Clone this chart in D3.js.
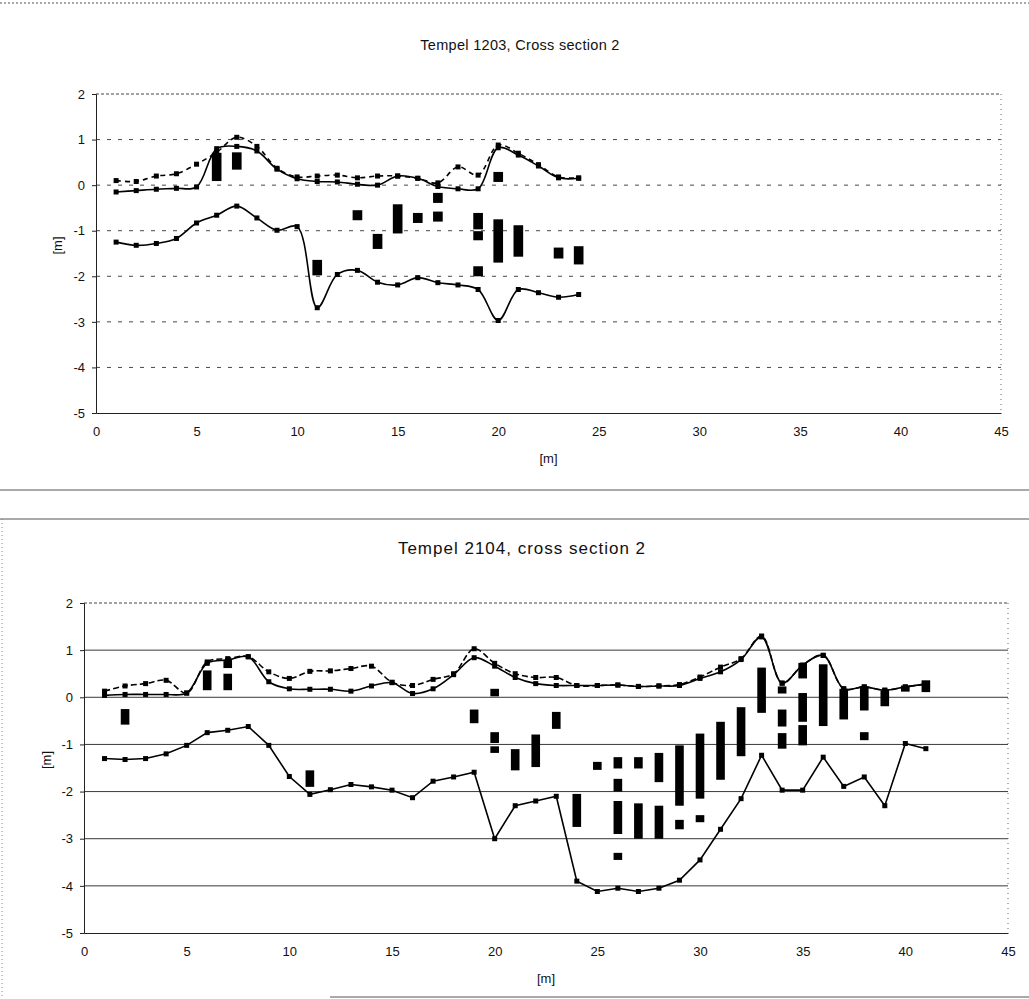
<!DOCTYPE html>
<html>
<head>
<meta charset="utf-8">
<script src="https://cdnjs.cloudflare.com/ajax/libs/d3/7.8.5/d3.min.js"></script>
<style>
  body { margin: 0; background: #fff; }
  svg { display: block; }
  text { font-family: "Liberation Sans", Arial, sans-serif; fill: #111; }
  .tick text { font-size: 13px; }
  .axis path, .axis line { stroke: #222; }
</style>
</head>
<body>
<div id="chart"></div>
<script>
var width = 1029, height = 999;

var xTicks = [0, 5, 10, 15, 20, 25, 30, 35, 40, 45];
var yTicks = [2, 1, 0, -1, -2, -3, -4, -5];

// Tempel 1203
var topStations = [1, 2, 3, 4, 5, 6, 7, 8, 9, 10, 11, 12, 13, 14, 15, 16, 17, 18, 19, 20, 21, 22, 23, 24];
var topAfter = [-0.15, -0.12, -0.09, -0.07, -0.04, 0.80, 0.85, 0.75, 0.35, 0.14, 0.08, 0.07, 0.02, 0.00, 0.20, 0.15, -0.03, -0.08, -0.08, 0.82, 0.66, 0.42, 0.16, 0.15];
var topBefore = [0.10, 0.08, 0.20, 0.25, 0.46, 0.72, 1.05, 0.85, 0.37, 0.18, 0.20, 0.22, 0.16, 0.20, 0.20, 0.15, 0.05, 0.40, 0.22, 0.88, 0.70, 0.45, 0.18, 0.16];
var topLower = [-1.25, -1.32, -1.28, -1.17, -0.83, -0.66, -0.46, -0.72, -0.99, -0.91, -2.69, -1.96, -1.87, -2.13, -2.19, -2.03, -2.14, -2.19, -2.29, -2.97, -2.29, -2.36, -2.46, -2.40];
var topBarX    = [6, 7, 11, 13, 14, 15, 16, 17, 17, 19, 19, 19, 20, 20, 21, 23, 24];
var topBarLow  = [0.09, 0.34, -1.98, -0.77, -1.40, -1.06, -0.83, -0.39, -0.80, -0.97, -1.21, -2.00, 0.07, -1.70, -1.57, -1.61, -1.74];
var topBarHigh = [0.71, 0.72, -1.64, -0.55, -1.07, -0.42, -0.61, -0.17, -0.58, -0.61, -1.01, -1.78, 0.29, -0.75, -0.88, -1.37, -1.34];

// Tempel 2104
var botStations = [1, 2, 3, 4, 5, 6, 7, 8, 9, 10, 11, 12, 13, 14, 15, 16, 17, 18, 19, 20, 21, 22, 23, 24, 25, 26, 27, 28, 29, 30, 31, 32, 33, 34, 35, 36, 37, 38, 39, 40, 41];
var botAfter = [0.04, 0.06, 0.06, 0.06, 0.09, 0.72, 0.79, 0.86, 0.33, 0.18, 0.17, 0.17, 0.13, 0.24, 0.31, 0.08, 0.18, 0.48, 0.84, 0.66, 0.42, 0.29, 0.25, 0.25, 0.25, 0.26, 0.23, 0.24, 0.25, 0.40, 0.54, 0.80, 1.28, 0.30, 0.68, 0.89, 0.18, 0.22, 0.15, 0.22, 0.28];
var botBefore = [0.13, 0.24, 0.29, 0.36, 0.09, 0.75, 0.82, 0.86, 0.54, 0.40, 0.55, 0.56, 0.61, 0.66, 0.32, 0.25, 0.38, 0.50, 1.03, 0.72, 0.50, 0.42, 0.42, 0.25, 0.25, 0.26, 0.23, 0.24, 0.27, 0.43, 0.64, 0.82, 1.30, 0.30, 0.68, 0.89, 0.18, 0.22, 0.15, 0.22, 0.28];
var botLower = [-1.30, -1.32, -1.30, -1.20, -1.02, -0.75, -0.70, -0.62, -1.02, -1.68, -2.06, -1.96, -1.85, -1.90, -1.97, -2.13, -1.78, -1.69, -1.59, -3.00, -2.30, -2.20, -2.10, -3.90, -4.12, -4.05, -4.12, -4.05, -3.88, -3.45, -2.80, -2.15, -1.23, -1.97, -1.97, -1.27, -1.89, -1.69, -2.30, -0.98, -1.09];
var botBarX    = [2, 6, 7, 7, 11, 19, 20, 20, 20, 21, 22, 23, 24, 25, 26, 26, 26, 26, 27, 27, 28, 28, 29, 29, 30, 30, 31, 32, 33, 34, 34, 34, 35, 35, 35, 36, 37, 38, 38, 39, 40, 41];
var botBarLow  = [-0.58, 0.15, 0.15, 0.62, -1.90, -0.55, 0.02, -0.97, -1.18, -1.55, -1.48, -0.67, -2.75, -1.54, -1.51, -2.00, -2.90, -3.45, -1.51, -3.00, -1.80, -3.00, -2.30, -2.80, -2.15, -2.65, -1.75, -1.25, -0.33, 0.08, -0.62, -1.09, 0.40, -0.52, -1.02, -0.61, -0.47, -0.28, -0.91, -0.19, 0.12, 0.11];
var botBarHigh = [-0.25, 0.57, 0.50, 0.80, -1.55, -0.26, 0.18, -0.74, -1.04, -1.10, -0.79, -0.31, -2.05, -1.37, -1.27, -1.73, -2.20, -3.30, -1.27, -2.25, -1.18, -2.30, -1.02, -2.60, -0.77, -2.50, -0.52, -0.21, 0.63, 0.23, -0.26, -0.76, 0.73, 0.09, -0.59, 0.70, 0.18, 0.23, -0.74, 0.15, 0.25, 0.36];

var svg = d3.select("#chart").append("svg")
    .attr("width", width)
    .attr("height", height);

svg.append("rect").attr("width", width).attr("height", height).attr("fill", "#fff");

// page rules of the scanned sheet
var rules = [
  {x1: 0, x2: width, y: 3, dash: "2,2"},
  {x1: 0, x2: width, y: 490, dash: null},
  {x1: 0, x2: width, y: 519, dash: null},
  {x1: 330, x2: width, y: 997, dash: null}
];
svg.selectAll("line.rule")
  .data(rules).enter()
  .append("line")
  .classed("rule", true)
  .attr("x1", function(d) { return d.x1; })
  .attr("x2", function(d) { return d.x2; })
  .attr("y1", function(d) { return d.y; })
  .attr("y2", function(d) { return d.y; })
  .attr("stroke", "#555")
  .attr("stroke-width", 1)
  .attr("stroke-dasharray", function(d) { return d.dash; });

svg.append("line")
  .attr("x1", 2).attr("x2", 2).attr("y1", 519).attr("y2", 999)
  .attr("stroke", "#888").attr("stroke-dasharray", "1,3");

function zip(xs, ys) {
  return xs.map(function(x, i) { return {x: x, y: ys[i]}; });
}

function drawPanel(p) {
  var x = d3.scaleLinear().domain([0, 45]).range([p.left, p.right]);
  var y = d3.scaleLinear().domain([-5, 2]).range([p.bottom, p.top]);
  var g = svg.append("g");

  // title
  g.append("text")
    .attr("x", p.titleX)
    .attr("y", p.titleY)
    .attr("text-anchor", "middle")
    .style("font-size", p.titleSize + "px")
    .style("letter-spacing", p.titleSpacing + "px")
    .text(p.title);

  // gridlines
  g.selectAll("line.grid")
    .data(yTicks.filter(function(d) { return d > -5 && d < 2; })).enter()
    .append("line")
    .classed("grid", true)
    .attr("x1", p.left).attr("x2", p.right)
    .attr("y1", function(d) { return y(d); })
    .attr("y2", function(d) { return y(d); })
    .attr("stroke", p.gridColor)
    .attr("stroke-width", 0.9)
    .attr("stroke-dasharray", p.gridDash);

  // plot frame: dotted top and right
  g.append("line")
    .attr("x1", p.left).attr("x2", p.right)
    .attr("y1", y(2)).attr("y2", y(2))
    .attr("stroke", "#444").attr("stroke-dasharray", "3,2");
  g.append("line")
    .attr("x1", p.right).attr("x2", p.right)
    .attr("y1", y(2)).attr("y2", y(-5))
    .attr("stroke", "#666").attr("stroke-dasharray", "1,4");

  // axes
  var yAxis = d3.axisLeft(y).tickValues(yTicks).tickSize(4).tickPadding(7)
    .tickFormat(function(d) { return d; });
  g.append("g").classed("axis", true)
    .attr("transform", "translate(" + p.left + ",0)")
    .call(yAxis);

  var xAxis = d3.axisBottom(x).tickValues(xTicks).tickSize(0).tickPadding(14);
  g.append("g").classed("axis", true)
    .attr("transform", "translate(0," + p.bottom + ")")
    .call(xAxis);

  g.append("text")
    .attr("x", (p.left + p.right) / 2)
    .attr("y", p.bottom + 50)
    .attr("text-anchor", "middle")
    .style("font-size", "13px")
    .text("[m]");

  g.append("text")
    .attr("transform", "translate(" + p.yLabelX + "," + ((p.top + p.bottom) / 2 - 8) + ") rotate(-90)")
    .attr("text-anchor", "middle")
    .style("font-size", "13px")
    .text("[m]");

  // bars (floating ranges)
  var bars = p.barX.map(function(bx, i) { return {x: bx, lo: p.barLow[i], hi: p.barHigh[i]}; });
  g.selectAll("rect.bar")
    .data(bars).enter()
    .append("rect")
    .classed("bar", true)
    .attr("x", function(d) { return x(d.x - p.barHalf); })
    .attr("width", function(d) { return x(d.x + p.barHalf) - x(d.x - p.barHalf); })
    .attr("y", function(d) { return y(d.hi); })
    .attr("height", function(d) { return y(d.lo) - y(d.hi); })
    .attr("fill", "#000");

  // lines
  var series = [
    {pts: zip(p.stations, p.before), dash: p.beforeDash, curve: d3.curveCatmullRom.alpha(0.5), mk: 5},
    {pts: zip(p.stations, p.after), dash: null, curve: d3.curveCatmullRom.alpha(0.5), mk: 5},
    {pts: zip(p.stations, p.lower), dash: null, curve: p.lowerCurve, mk: 5}
  ];

  series.forEach(function(s) {
    var line = d3.line()
      .x(function(d) { return x(d.x); })
      .y(function(d) { return y(d.y); })
      .curve(s.curve);
    g.append("path")
      .datum(s.pts)
      .attr("d", line)
      .attr("fill", "none")
      .attr("stroke", "#000")
      .attr("stroke-width", 1.6)
      .attr("stroke-dasharray", s.dash);
    g.selectAll(null)
      .data(s.pts).enter()
      .append("rect")
      .attr("x", function(d) { return x(d.x) - s.mk / 2; })
      .attr("y", function(d) { return y(d.y) - s.mk / 2; })
      .attr("width", s.mk)
      .attr("height", s.mk)
      .attr("fill", "#000");
  });
}

drawPanel({
  title: "Tempel 1203, Cross section 2",
  titleX: 520, titleY: 50, titleSize: 14.5, titleSpacing: 0.3,
  left: 96, right: 1001, top: 94, bottom: 413,
  yLabelX: 62,
  gridColor: "#333", gridDash: "4,7",
  beforeDash: "5,4",
  lowerCurve: d3.curveCatmullRom.alpha(0.5),
  stations: topStations, after: topAfter, before: topBefore, lower: topLower,
  barX: topBarX, barLow: topBarLow, barHigh: topBarHigh, barHalf: 0.24
});

drawPanel({
  title: "Tempel 2104, cross section 2",
  titleX: 522, titleY: 554, titleSize: 17, titleSpacing: 1,
  left: 84, right: 1008, top: 603, bottom: 933,
  yLabelX: 51,
  gridColor: "#222", gridDash: null,
  beforeDash: "6,3",
  lowerCurve: d3.curveLinear,
  stations: botStations, after: botAfter, before: botBefore, lower: botLower,
  barX: botBarX, barLow: botBarLow, barHigh: botBarHigh, barHalf: 0.21
});
</script>
</body>
</html>
